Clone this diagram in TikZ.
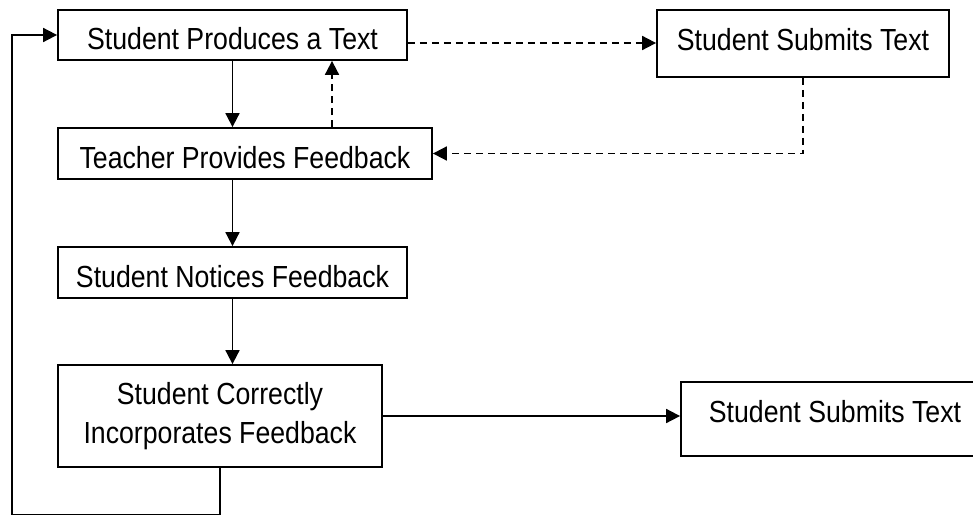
\documentclass[tikz,border=0pt]{standalone}
\usepackage{fontspec}
\setmainfont{Liberation Sans}[FakeStretch=0.875]
\usetikzlibrary{arrows.meta}
\begin{document}
\begin{tikzpicture}[x=1pt,y=-1pt,
  box/.style={draw=black,line width=1.8pt,inner sep=0pt,align=center,
    font=\fontsize{30.5}{38.7}\selectfont},
  conn/.style={line width=1.8pt,-{Triangle[length=14pt,width=14pt]}},
  dconn/.style={conn,dash pattern=on 7pt off 5pt}]
\useasboundingbox (0,0) rectangle (973,516);
\node[box,minimum width=349pt,minimum height=50pt,text height=30pt,text depth=0pt] (b1) at (232.5,35) {Student Produces a Text};
\node[box,minimum width=292pt,minimum height=67pt,text height=21.5pt,text depth=6.5pt] (b2) at (803,43.5) {Student Submits Text};
\node[box,minimum width=374pt,minimum height=51pt,text height=29pt,text depth=0pt] (b3) at (245,153.5) {Teacher Provides Feedback};
\node[box,minimum width=349pt,minimum height=51pt,text height=29.6pt,text depth=0pt] (b4) at (232.5,272.5) {Student Notices Feedback};
\node[box,minimum width=324pt,minimum height=102pt] (b5) at (220,416) {Student Correctly\\Incorporates Feedback};
\node[box,minimum width=308pt,minimum height=74pt,text height=21.5pt,text depth=14.1pt] (b6) at (835,419) {Student Submits Text};
\coordinate (dx) at (332,0);
\coordinate (dy) at (0,43);
\coordinate (loopbl) at (12,514.5);
\draw[conn] (b1.south) -- (b1.south |- b3.north);
\draw[dconn] (b3.north -| dx) -- (b1.south -| dx);
\draw[dconn] (b1.east |- dy) -- (b2.west |- dy);
\draw[dconn] (b2.south) |- (b3.east);
\draw[conn] (b3.south -| b4.north) -- (b4.north);
\draw[conn] (b4.south) -- (b5.north -| b4.south);
\draw[conn] (b5.east) -- (b6.west |- b5.east);
\draw[conn] (b5.south) |- (loopbl) |- (b1.west);
\end{tikzpicture}
\end{document}
